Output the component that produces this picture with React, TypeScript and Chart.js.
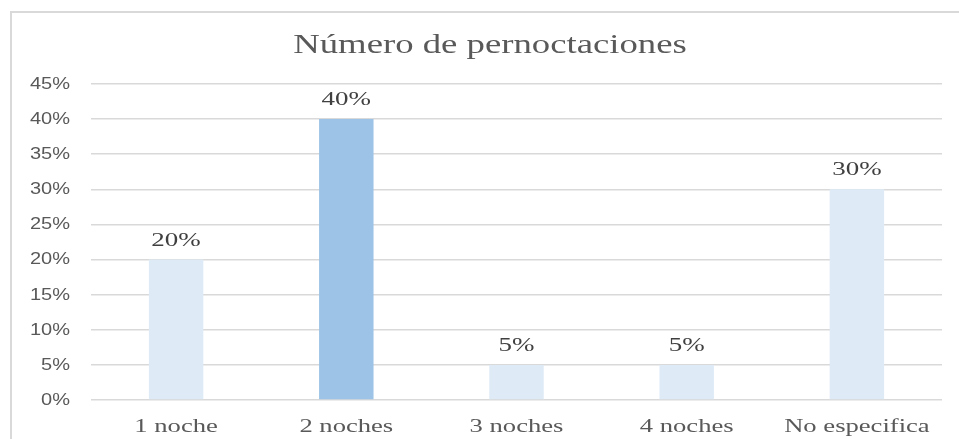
import React, { useEffect, useRef } from "react";
import { Chart, registerables } from "chart.js";

Chart.register(...registerables);

// Chart data
const TITLE = "Número de pernoctaciones";
const categories = ["1 noche", "2 noches", "3 noches", "4 noches", "No especifica"];
const values = [20, 40, 5, 5, 30]; // percent
const barColors = ["#DEEBF7", "#9DC3E6", "#DEEBF7", "#DEEBF7", "#DEEBF7"];
const yMax = 45;
const yStep = 5;

const SERIF = "'Liberation Serif', 'Times New Roman', serif";
const SANS = "'Liberation Sans', Arial, sans-serif";

// Draws text with a horizontal stretch factor
function stretchedText(
  ctx: CanvasRenderingContext2D,
  text: string,
  x: number,
  y: number,
  sx: number,
  font: string,
  color: string,
  align: CanvasTextAlign,
  baseline: CanvasTextBaseline
) {
  ctx.save();
  ctx.font = font;
  ctx.fillStyle = color;
  ctx.textAlign = align;
  ctx.textBaseline = baseline;
  ctx.translate(x, y);
  ctx.scale(sx, 1);
  ctx.fillText(text, 0, 0);
  ctx.restore();
}

const textPlugin = {
  id: "frameAndText",
  afterDraw(chart: any) {
    const ctx: CanvasRenderingContext2D = chart.ctx;
    const xScale = chart.scales.x;
    const yScale = chart.scales.y;

    // outer frame
    ctx.save();
    ctx.strokeStyle = "#D9D9D9";
    ctx.lineWidth = 2;
    ctx.strokeRect(11, 12, 1000, 1000);
    ctx.restore();

    // title
    stretchedText(ctx, TITLE, 490, 53, 1.36, `27px ${SERIF}`, "#595959", "center", "alphabetic");

    // y tick labels
    yScale.ticks.forEach((t: any) => {
      const y = yScale.getPixelForValue(t.value);
      stretchedText(ctx, `${t.value}%`, 70, y + 0.5, 1.25, `16px ${SANS}`, "#595959", "right", "middle");
    });

    // category labels
    categories.forEach((c, i) => {
      const x = xScale.getPixelForValue(i);
      stretchedText(ctx, c, x, 432, 1.4, `19px ${SERIF}`, "#595959", "center", "alphabetic");
    });

    // value labels above bars
    const meta = chart.getDatasetMeta(0);
    meta.data.forEach((bar: any, i: number) => {
      stretchedText(ctx, `${values[i]}%`, bar.x, bar.y - 14, 1.42, `19px ${SERIF}`, "#404040", "center", "alphabetic");
    });
  },
};

export default function App() {
  const canvasRef = useRef<HTMLCanvasElement | null>(null);

  useEffect(() => {
    document.body.style.margin = "0";
    const canvas = canvasRef.current;
    if (!canvas) return;
    const chart = new Chart(canvas, {
      type: "bar",
      data: {
        labels: categories,
        datasets: [
          {
            data: values,
            backgroundColor: barColors,
            borderWidth: 0,
            barPercentage: 0.32,
            categoryPercentage: 1,
          },
        ],
      },
      options: {
        responsive: false,
        animation: false,
        devicePixelRatio: 1,
        layout: { padding: { left: 0, right: 17, top: 84, bottom: 0 } },
        plugins: {
          legend: { display: false },
          title: { display: false },
          tooltip: { enabled: false },
        },
        scales: {
          x: {
            grid: { display: false },
            border: { display: false },
            ticks: { display: false },
            afterFit: (scale: any) => {
              scale.height = 39;
            },
          },
          y: {
            min: 0,
            max: yMax,
            ticks: { stepSize: yStep, display: false },
            grid: { color: "#D9D9D9", lineWidth: 1.5, drawTicks: false },
            border: { display: false },
            afterFit: (scale: any) => {
              scale.width = 91;
            },
          },
        },
      },
      plugins: [textPlugin],
    });
    return () => chart.destroy();
  }, []);

  return (
    <div style={{ position: "absolute", left: 0, top: 0, width: 959, height: 439, background: "#fff" }}>
      <canvas ref={canvasRef} width={959} height={439} style={{ display: "block" }} />
    </div>
  );
}
